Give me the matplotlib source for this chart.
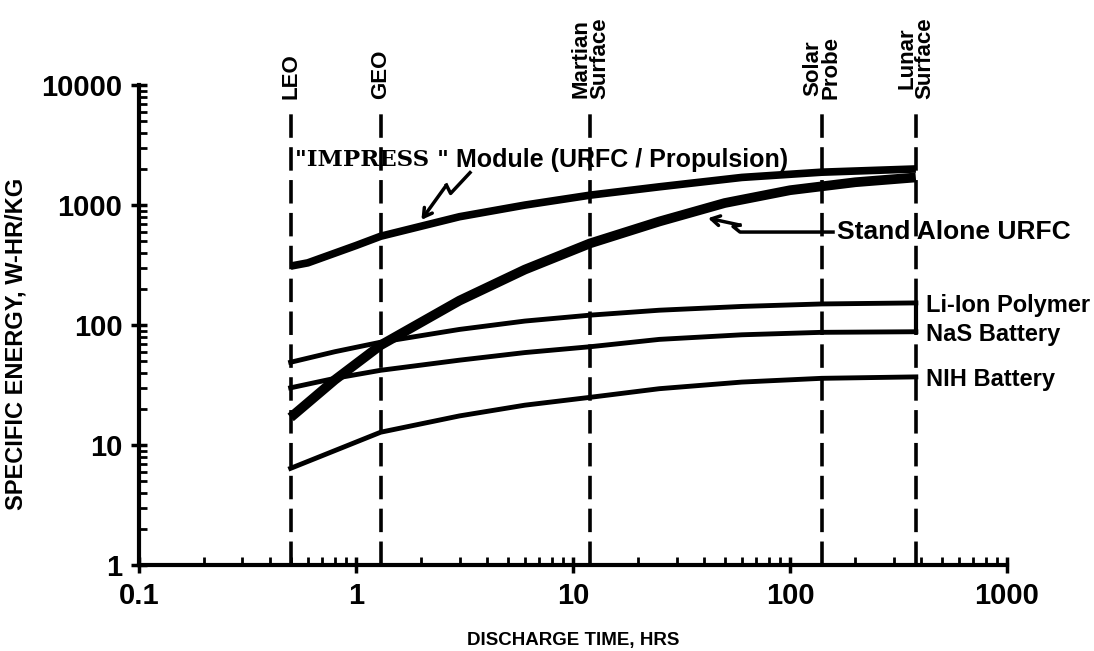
import matplotlib
matplotlib.use("Agg")
import matplotlib.pyplot as plt
import matplotlib.transforms as mtransforms
from matplotlib.ticker import FuncFormatter, LogLocator, NullFormatter

plt.rcParams['font.family'] = ['Liberation Sans', 'DejaVu Sans']
plt.rcParams['font.weight'] = 'bold'

# mission discharge times (hrs) for the dashed reference lines
mission_names = ['LEO', 'GEO', 'Martian\nSurface', 'Solar\nProbe', 'Lunar\nSurface']
mission_hrs = [0.5, 1.3, 12, 140, 380]

# curves (hrs, W-hr/kg)
impress_x = [0.5, 0.6, 1, 1.3, 3, 6, 12, 25, 60, 140, 380]
impress_y = [310, 330, 460, 550, 800, 1000, 1210, 1420, 1700, 1880, 2000]

urfc_x = [0.5, 0.8, 1.3, 3, 6, 12, 25, 50, 100, 200, 380]
urfc_y = [17, 35, 68, 160, 290, 480, 730, 1040, 1330, 1550, 1700]

liion_x = [0.5, 0.8, 1.3, 3, 6, 12, 25, 60, 140, 380]
liion_y = [49, 60, 72, 92, 108, 121, 133, 143, 150, 153]

nas_x = [0.5, 0.8, 1.3, 3, 6, 12, 25, 60, 140, 380]
nas_y = [30, 36, 42, 51, 59, 66, 76, 83, 87, 88]

nih_x = [0.5, 0.8, 1.3, 3, 6, 12, 25, 60, 140, 380]
nih_y = [6.4, 9.0, 12.8, 17.5, 21.5, 25, 29.5, 33.5, 36, 37]

fig = plt.figure(figsize=(10.94, 6.51), dpi=100)
ax = fig.add_axes([0.127, 0.132, 0.7935, 0.7373])
ax.set_xscale('log')
ax.set_yscale('log')
ax.set_xlim(0.1, 1000)
ax.set_ylim(1, 10000)

for s in ['top', 'right']:
    ax.spines[s].set_visible(False)
for s in ['left', 'bottom']:
    ax.spines[s].set_linewidth(3)

fmt = FuncFormatter(lambda v, _: f'{v:g}')
for axis in [ax.xaxis, ax.yaxis]:
    axis.set_major_locator(LogLocator(base=10, numticks=10))
    axis.set_minor_locator(LogLocator(base=10, subs=range(2, 10), numticks=20))
    axis.set_major_formatter(fmt)
    axis.set_minor_formatter(NullFormatter())
ax.tick_params(which='major', direction='inout', length=12, width=2.5, labelsize=21, pad=6)
ax.tick_params(which='minor', direction='in', length=6, width=2)

# dashed mission lines and their labels
lbl_trans = mtransforms.blended_transform_factory(ax.transData, ax.transAxes)
for name, hrs in zip(mission_names, mission_hrs):
    ax.axvline(hrs, ymin=0, ymax=0.94, color='black', lw=2.6, linestyle=(0, (6.5, 2.6)))
    ax.text(hrs, 0.97, name, transform=lbl_trans, rotation=90, ha='center', va='bottom',
            fontsize=16, fontweight='bold', linespacing=0.85, clip_on=False)

# curves
ax.plot(impress_x, impress_y, color='black', lw=5.5, solid_capstyle='butt')
ax.plot(urfc_x, urfc_y, color='black', lw=7, solid_capstyle='butt')
ax.plot(liion_x, liion_y, color='black', lw=3.5)
ax.plot(nas_x, nas_y, color='black', lw=3.5)
ax.plot(nih_x, nih_y, color='black', lw=3.5)
ax.plot([liion_x[-1], nas_x[-1]], [liion_y[-1], nas_y[-1]], color='black', lw=3)

# end-of-curve labels
for name, xs, ys in [('Li-Ion Polymer', liion_x, liion_y),
                     ('NaS Battery', nas_x, nas_y),
                     ('NIH Battery', nih_x, nih_y)]:
    ax.annotate(name, xy=(xs[-1], ys[-1]), xytext=(7, -2), textcoords='offset points',
                ha='left', va='center', fontsize=17, fontweight='bold')


def pt_trans(x, y):
    # offsets in points measured from a data point
    return (mtransforms.Affine2D().scale(1 / 72.) + fig.dpi_scale_trans
            + mtransforms.ScaledTranslation(x, y, ax.transData))


def bolt(x, y, pts):
    tr = pt_trans(x, y)
    xs = [p[0] for p in pts[:-1]]
    ys = [p[1] for p in pts[:-1]]
    ax.plot(xs, ys, color='black', lw=2.5, transform=tr, clip_on=False)
    ax.annotate('', xy=pts[-1], xytext=pts[-2], xycoords=tr, textcoords=tr,
                arrowprops=dict(arrowstyle='->,head_length=0.6,head_width=0.35', lw=2.5,
                                color='black', shrinkA=0, shrinkB=0))


# IMPRESS label
t1 = ax.text(0.524, 2370, '"IMPRESS "', family=['DejaVu Serif', 'Liberation Serif'],
             fontsize=16.5, fontweight='heavy', ha='left', va='center')
ax.annotate(' Module (URFC / Propulsion)', xy=(1, 0.5), xycoords=t1, ha='left', va='center',
            fontsize=18, fontweight='bold')
bolt(0.524, 2370, [(126, -9), (112, -24), (109, -18), (91, -43)])

# Stand Alone URFC label
ax.text(165, 596, 'Stand Alone URFC', fontsize=19, fontweight='bold', ha='left', va='center')
bolt(165, 596, [(-3, 0), (-70, 0), (-75, 4), (-70, 5), (-93, 10)])

ax.set_xlabel('DISCHARGE TIME, HRS', fontsize=13.5, fontweight='bold')
ax.set_ylabel('SPECIFIC ENERGY, W-HR/KG', fontsize=17, fontweight='bold')
ax.xaxis.set_label_coords(0.5, -0.14)
ax.yaxis.set_label_coords(-0.128, 0.46)

fig.savefig('out.png', dpi=100)
